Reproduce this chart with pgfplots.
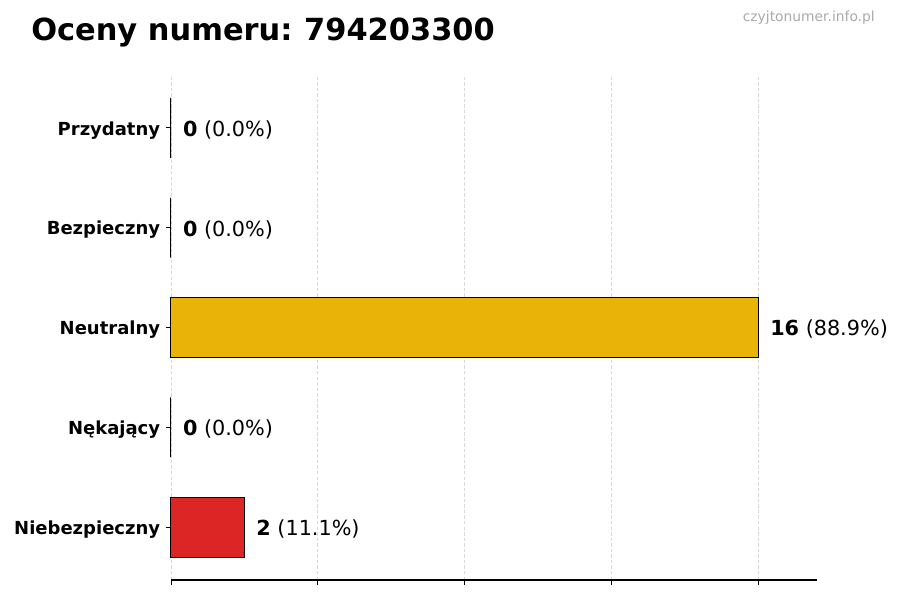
\documentclass[border=0pt]{standalone}
\usepackage{pgfplots}
\pgfplotsset{compat=1.18}
\usepackage{fontspec}
\setmainfont{DejaVu Sans}
\definecolor{neutral}{RGB}{234,179,8}
\definecolor{danger}{RGB}{220,38,38}
\definecolor{wmark}{RGB}{170,170,170}
\begin{document}
\begin{tikzpicture}
\path[fill=white] (0,0) rectangle (648bp,432bp);
\node[anchor=base west,font=\bfseries\fontsize{22}{26}\selectfont,inner sep=0pt]
  at (22.3bp,402.5bp) {Oceny numeru:\hspace{-0.08em} 794203300};
\node[anchor=base east,font=\fontsize{10}{12}\selectfont,text=wmark,inner sep=0pt]
  at (630bp,416.2bp) {czyjtonumer.info.pl};
\begin{axis}[
    at={(123.1bp,14.4bp)}, anchor=south west,
    scale only axis,
    width=465.1bp, height=363.6bp,
    xbar, bar shift=0pt, bar width=0.6,
    xmin=0, xmax=17.6,
    ymin=-0.53, ymax=4.53,
    xtick={0,4,8,12,16}, xticklabels={},
    ytick={0,1,2,3,4},
    yticklabels={Niebezpieczny,Nękający,Neutralny,Bezpieczny,Przydatny},
    yticklabel style={font=\bfseries\fontsize{13}{15}\selectfont, yshift=-1.6bp, xshift=-0.8bp},
    axis x line*=bottom, axis y line*=left,
    y axis line style={draw=none},
    tick align=outside, major tick length=3.5bp,
    tick style={black, line width=0.6bp},
    x axis line style={line width=0.8bp},
    xmajorgrids,
    grid style={dash pattern=on 2.5bp off 1.5bp, gray!30, line width=0.5bp},
    point meta=explicit symbolic,
    nodes near coords,
    every node near coord/.append style={anchor=west, xshift=5bp, yshift=-1.4bp,
        font=\fontsize{15}{18}\selectfont, text=black},
    clip=false,
]
\addplot[fill=danger, draw=black, line width=0.7bp]
    coordinates {(2,0) [{\textbf{2} (11.1\%)}]};
\addplot[fill=gray, draw=black, line width=0.7bp]
    coordinates {(0,1) [{\textbf{0} (0.0\%)}]};
\addplot[fill=neutral, draw=black, line width=0.7bp]
    coordinates {(16,2) [{\textbf{16} (88.9\%)}]};
\addplot[fill=green, draw=black, line width=0.7bp]
    coordinates {(0,3) [{\textbf{0} (0.0\%)}]};
\addplot[fill=blue, draw=black, line width=0.7bp]
    coordinates {(0,4) [{\textbf{0} (0.0\%)}]};
\end{axis}
\end{tikzpicture}
\end{document}
